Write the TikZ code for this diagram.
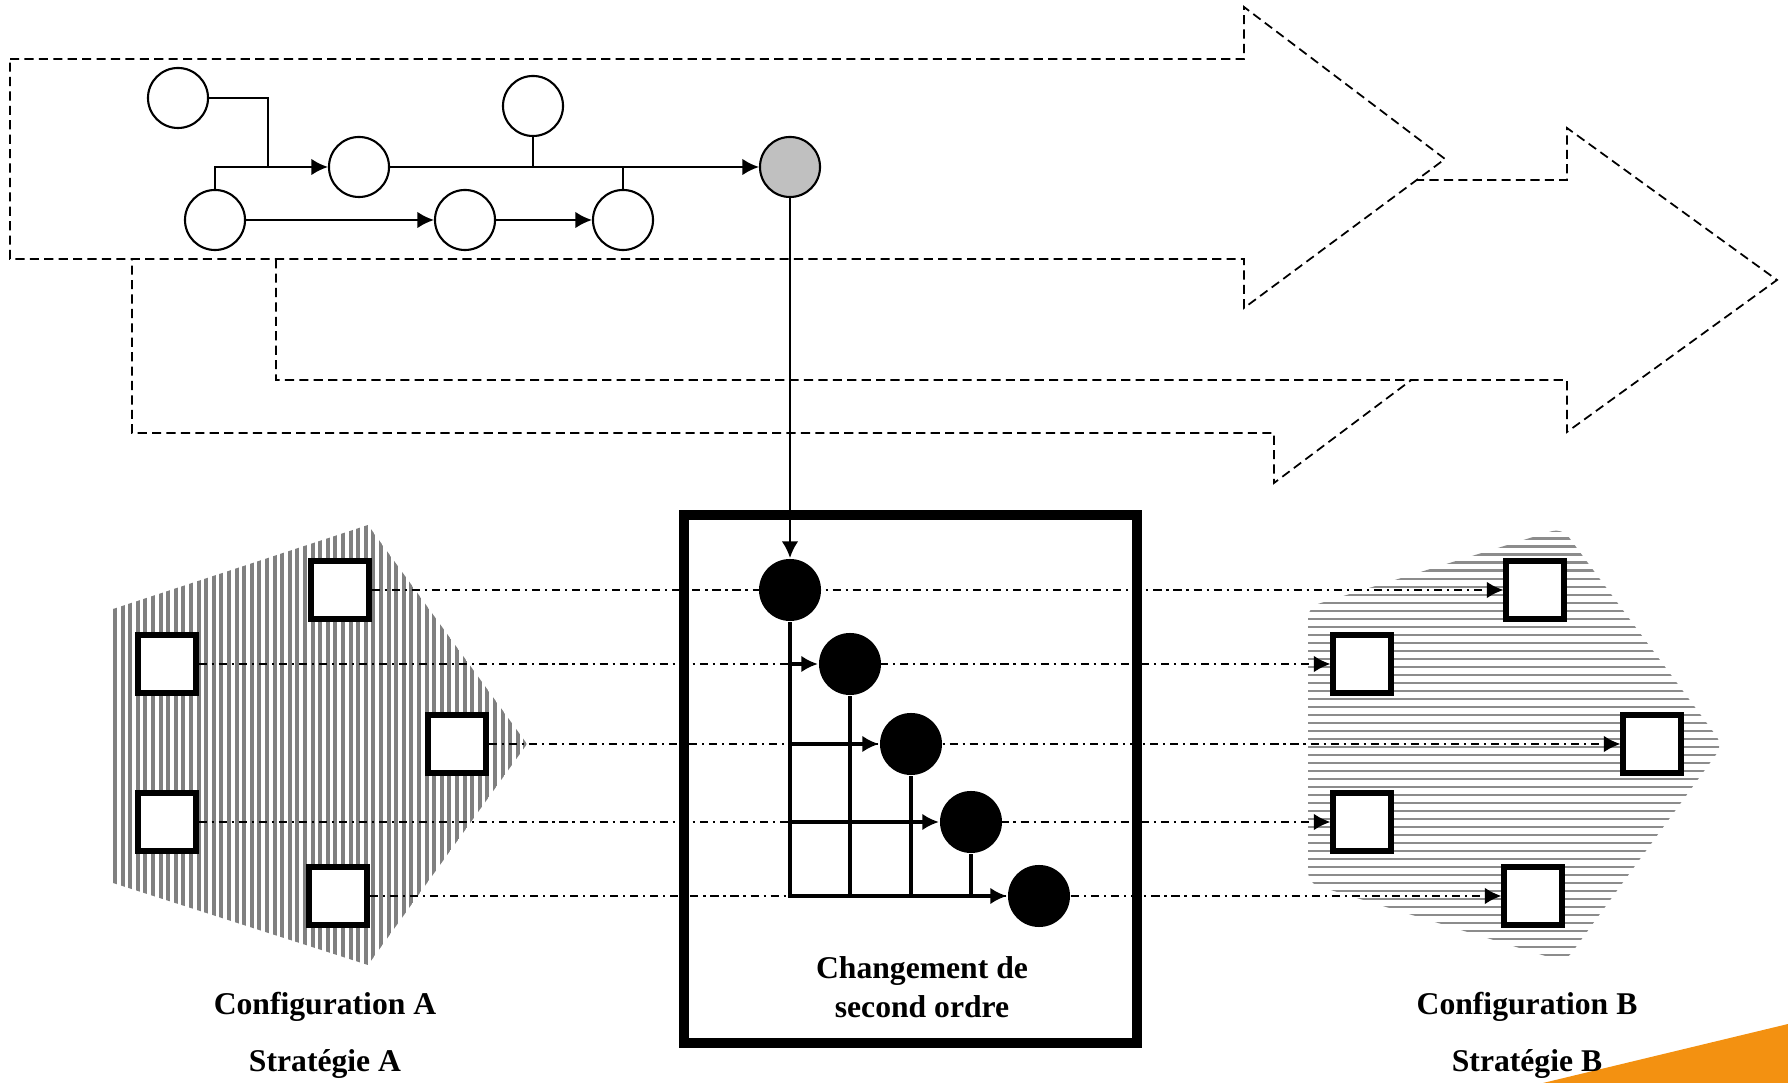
\documentclass[tikz,border=0pt]{standalone}
\usepackage{fontspec}
\setmainfont{Liberation Serif}
\usepackage{tikz}
\usetikzlibrary{arrows.meta}
\definecolor{grisclair}{RGB}{192,192,192}
\definecolor{orangecoin}{RGB}{243,145,17}

\begin{document}
\begin{tikzpicture}[x=0.01cm, y=-0.01cm, line width=0.6pt,
  >={Latex[length=4.7pt,width=4.7pt]},
  evt/.style={circle, draw, fill=white, minimum size=0.6cm, inner sep=0pt},
  chg/.style={circle, fill=black, minimum size=0.62cm, inner sep=0pt},
  elt/.style={draw, line width=1.5pt, fill=white, minimum size=0.58cm, inner sep=0pt},
  fleche/.style={dash pattern=on 2.6pt off 1.5pt, line width=0.5pt, fill=white},
  mixte/.style={dash pattern=on 2.3pt off 1.4pt on 0.6pt off 1.4pt, line width=0.5pt},
  tronc/.style={line width=1.4pt},
  titre/.style={font=\fontsize{9}{11.1}\selectfont\bfseries, align=center}]
\useasboundingbox (0,0) rectangle (1788,1083);
\draw[fleche] (132,233) -- (1274,233) -- (1274,183) -- (1474,333) -- (1274,483) -- (1274,433) -- (132,433) -- cycle;
\draw[fleche] (276,180) -- (1567,180) -- (1567,128) -- (1777,280) -- (1567,432) -- (1567,380) -- (276,380) -- cycle;
\draw[fleche] (10,59) -- (1244,59) -- (1244,7) -- (1445,159) -- (1244,308) -- (1244,259) -- (10,259) -- cycle;
\begin{scope}
\clip (368,525) -- (527,744) -- (368,965) -- (113,883) -- (113,609) -- cycle;
\foreach \x in {115,122.6,...,530} \draw[black!50, line width=1.1pt] (\x,520) -- (\x,970);
\end{scope}
\begin{scope}
\clip[rounded corners=3pt] (1308,607) -- (1562,528) -- (1723,745) -- (1565,962) -- (1308,883) -- cycle;
\foreach \y in {531,539,...,962} \draw[black!45, line width=0.85pt] (1300,\y) -- (1730,\y);
\end{scope}
\node[elt] (sa1) at (340,590) {};
\node[elt] (sa2) at (167,664) {};
\node[elt] (sa3) at (457,744) {};
\node[elt] (sa4) at (167,822) {};
\node[elt] (sa5) at (338,896) {};
\node[elt] (sb1) at (1535,590) {};
\node[elt] (sb2) at (1362,664) {};
\node[elt] (sb3) at (1652,744) {};
\node[elt] (sb4) at (1362,822) {};
\node[elt] (sb5) at (1533,896) {};
\foreach \i in {1,...,5} \draw[mixte,->] (sa\i) -- (sb\i);
\draw[line width=2.85pt] (684,515) rectangle (1137,1043);
\node[chg] (c1) at (790,590) {};
\node[chg] (c2) at (850,664) {};
\node[chg] (c3) at (911,744) {};
\node[chg] (c4) at (971,822) {};
\node[chg] (c5) at (1039,896) {};
\draw[tronc,->] (c1.south) |- (c5.west);
\foreach \i in {2,3,4} \draw[tronc,->] (c1 |- c\i) -- (c\i.west);
\foreach \i in {2,3,4} \draw[tronc] (c\i.south) -- (c\i |- c5);
\node[evt] (n1) at (178,98) {};
\node[evt] (n2) at (359,167) {};
\node[evt] (n3) at (533,106) {};
\node[evt] (n4) at (623,220) {};
\node[evt] (n5) at (215,220) {};
\node[evt] (n6) at (465,220) {};
\node[evt, fill=grisclair] (g) at (790,167) {};
\coordinate (j1) at (268,167);
\draw (n1.east) -| (j1);
\draw[->] (n5.north) |- (n2.west);
\draw[->] (n2) -- (g);
\draw (n3.south) -- (n3 |- n2);
\draw (n4.north) -- (n4 |- n2);
\draw[->] (n5) -- (n6);
\draw[->] (n6) -- (n4);
\draw[->] (g) -- (c1);
\fill[orangecoin] (1543,1083) -- (1788,1024) -- (1788,1083) -- cycle;
\node[titre] (cfga) at (325,1007) {Configuration A};
\node[titre] (stra) at (325,1064) {Stratégie A};
\node[titre] (cfgb) at (1527,1007) {Configuration B};
\node[titre] (strb) at (1527,1064) {Stratégie B};
\node[titre] (chgt) at (922,987) {Changement de\\second ordre};
\end{tikzpicture}
\end{document}
